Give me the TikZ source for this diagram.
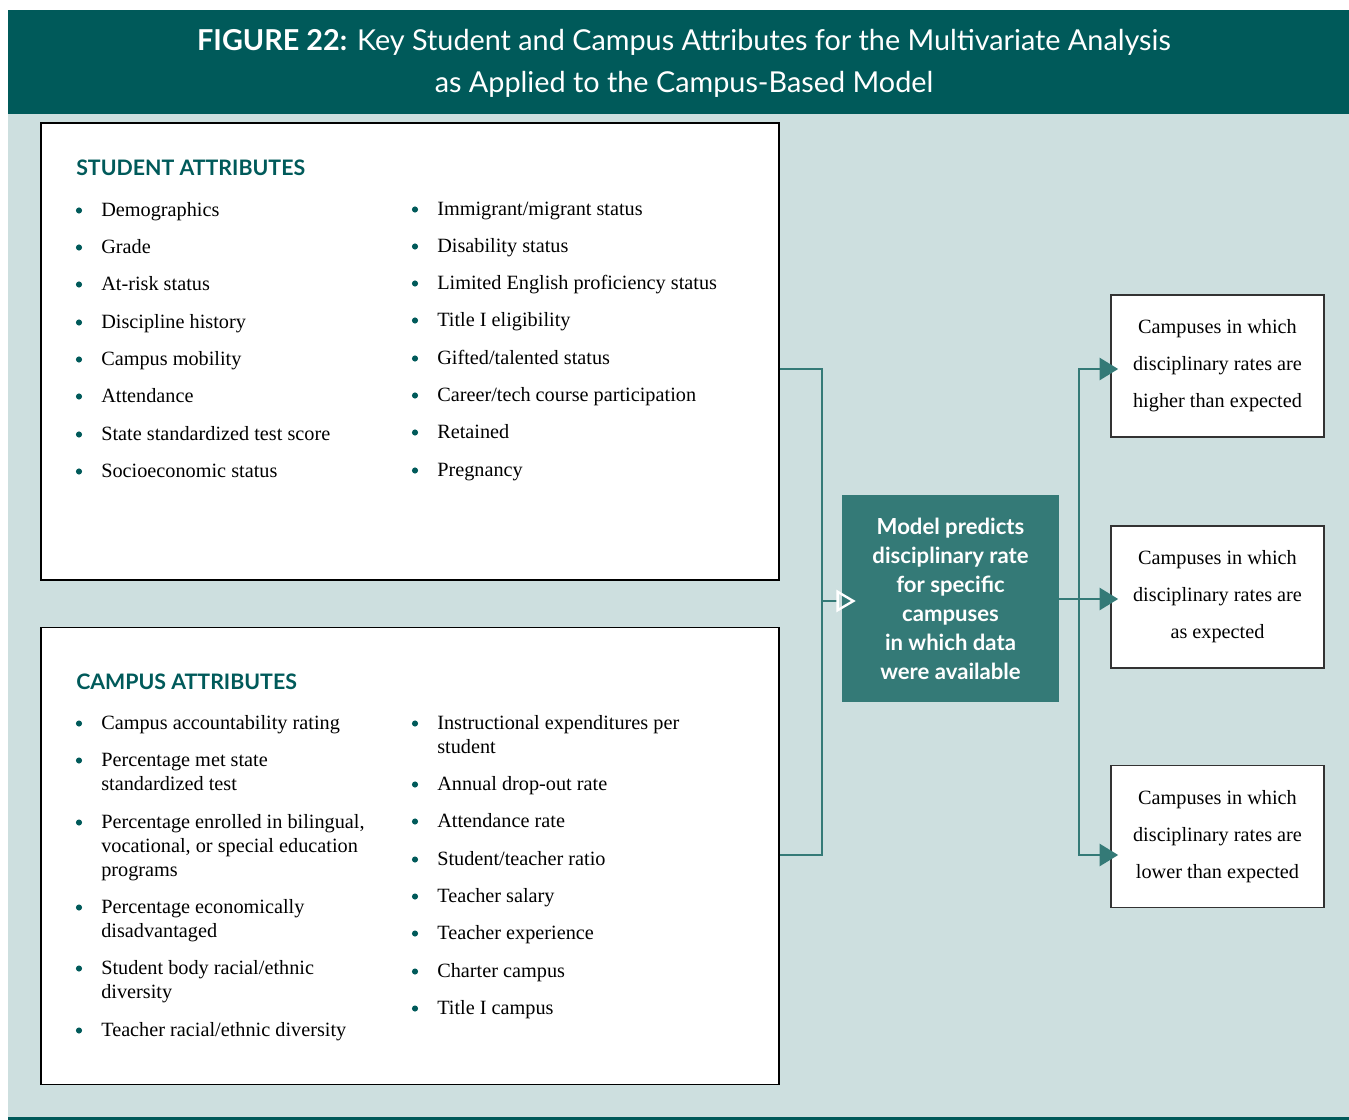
\documentclass[tikz,border=0pt]{standalone}
\usepackage{fontspec}
\usepackage{tikz}
\usetikzlibrary{arrows.meta,positioning}
\setmainfont{Liberation Serif}
\newfontfamily\headfont{Lato}
\definecolor{darkteal}{RGB}{0, 90, 90}
\definecolor{paleteal}{RGB}{205, 223, 223}
\definecolor{midteal}{RGB}{52, 122, 119}
\newcommand{\toplines}[1]{\begin{tabular}[t]{@{}l@{}}#1\end{tabular}}

\tikzset{
  panel/.style={draw=black,fill=white,line width=1.1pt,minimum width=553.5pt,minimum height=342.5pt},
  outbox/.style={draw=black!80,fill=white,line width=1.2pt,minimum width=159.75pt,minimum height=106.5pt,align=center,font=\fontsize{15.2}{27.75}\selectfont},
  modelbox/.style={fill=midteal,text=white,minimum width=162.75pt,minimum height=155.25pt,align=center,font=\headfont\bfseries\fontsize{16.6}{21.75}\selectfont},
  heading/.style={anchor=west,inner sep=0pt,text=darkteal,font=\headfont\bfseries\fontsize{16}{19}\selectfont},
  item/.style={anchor=base west,inner sep=0pt,font=\fontsize{15.2}{18}\selectfont},
  dot/.style={circle,fill=darkteal,inner sep=0pt,minimum size=4.6pt},
  link/.style={draw=midteal,line width=2.2pt},
  shut/.style={-{Triangle[length=14pt,width=16.5pt,fill=midteal]}},
  hollow/.style={-{Triangle[open,color=white,length=14.5pt,width=16.5pt,line width=1.8pt]}}
}

\begin{document}
\begin{tikzpicture}[x=0.75pt,y=-0.75pt]
        \useasboundingbox (0,0) rectangle (1349,1120);
        \fill[darkteal] (8,10) rectangle (1349,114);
        \fill[paleteal] (8,114) rectangle (1349,1117);
        \fill[darkteal] (8,1117) rectangle (1349,1119.5);

        \coordinate (upper) at (0,369);
        \coordinate (lower) at (0,855);
        \coordinate (lj) at (822,601);
        \coordinate (rj) at (1079,599);

        \node[text=white,align=center,font=\headfont\fontsize{21.6}{31.5}\selectfont] (title) at (684,63)
          {\textbf{FIGURE 22:} Key Student and Campus Attributes for the Multivariate Analysis\\as Applied to the Campus-Based Model};

        \node[panel] (student) at (410,351.5) {};
        \node[panel] (campus) at (410,856) {};
        \node[modelbox] (model) at (950.5,598.5) {Model predicts\\disciplinary rate\\for specific\\campuses\\in which data\\were available};
        \node[outbox] (high) at (1217.5,366) {Campuses in which\\disciplinary rates are\\higher than expected};
        \node[outbox] (expected) at (1217.5,597) {Campuses in which\\disciplinary rates are\\as expected};
        \node[outbox] (low) at (1217.5,836.5) {Campuses in which\\disciplinary rates are\\lower than expected};

        \node[heading] (sthead) at (76,168) {STUDENT ATTRIBUTES};
        \node[heading] (cahead) at (76,682) {CAMPUS ATTRIBUTES};

        \foreach \y/\t in {216/Demographics, 253/Grade, 290/At-risk status, 328/Discipline history,
                          365/Campus mobility, 402/Attendance, 440/State standardized test score, 477/Socioeconomic status}{
          \node[dot] (sdl\y) at (79,\y-5.5) {};
          \node[item] (sl\y) at (101,\y) {\toplines{\t}};
        }
        \foreach \y/\t in {215/{Immigrant/migrant status}, 252/Disability status, 289/Limited English proficiency status,
                          326/Title I eligibility, 364/{Gifted/talented status}, 401/{Career/tech course participation},
                          438/Retained, 476/Pregnancy}{
          \node[dot] (sdr\y) at (415,\y-5.5) {};
          \node[item] (sr\y) at (437,\y) {\toplines{\t}};
        }
        \foreach \y/\t in {729/Campus accountability rating, 766/{Percentage met state\\standardized test},
                          828/{Percentage enrolled in bilingual,\\vocational, or special education\\programs},
                          913/{Percentage economically\\disadvantaged}, 974/{Student body racial/ethnic\\diversity},
                          1036/{Teacher racial/ethnic diversity}}{
          \node[dot] (cdl\y) at (79,\y-5.5) {};
          \node[item] (cl\y) at (101,\y) {\toplines{\t}};
        }
        \foreach \y/\t in {729/{Instructional expenditures per\\student}, 790/Annual drop-out rate, 827/Attendance rate,
                          865/{Student/teacher ratio}, 902/Teacher salary, 939/Teacher experience,
                          977/Charter campus, 1014/Title I campus}{
          \node[dot] (cdr\y) at (415,\y-5.5) {};
          \node[item] (cr\y) at (437,\y) {\toplines{\t}};
        }

        \draw[link] (student.east |- upper) -| (lj |- lower) -- (campus.east |- lower);
        \draw[link,hollow] (lj) -- ([xshift=10.5pt]model.west |- lj);
        \draw[link,shut] (model.east |- rj) -- ([xshift=6pt]expected.west |- rj);
        \draw[link,shut] (rj) |- ([xshift=6pt]high.west |- upper);
        \draw[link,shut] (rj) |- ([xshift=6pt]low.west |- lower);
\end{tikzpicture}
\end{document}
